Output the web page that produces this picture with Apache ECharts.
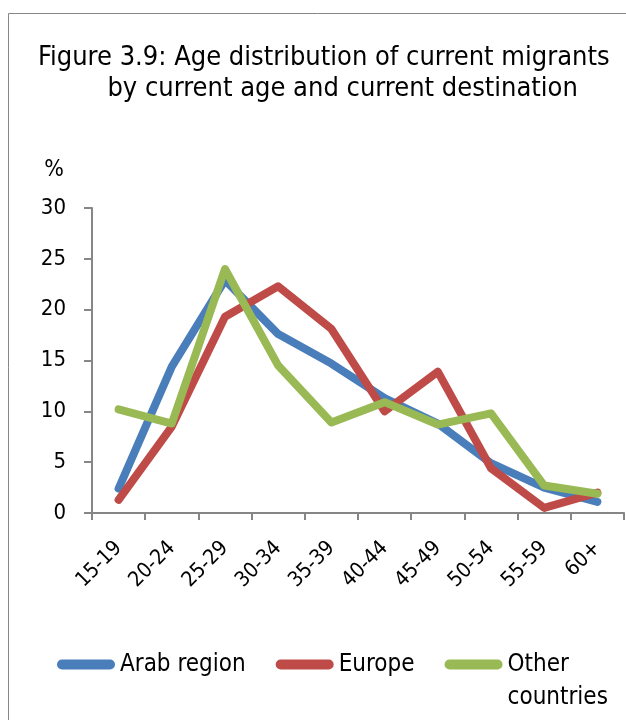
<!DOCTYPE html>
<html>
<head>
<meta charset="utf-8">
<script src="https://cdn.jsdelivr.net/npm/echarts@6/dist/echarts.min.js"></script>
<style>
  html, body { margin: 0; padding: 0; background: #fff; }
  #chart { width: 626px; height: 720px; }
</style>
</head>
<body>
<div id="chart"></div>
<script>
// age groups on the x axis
var ageGroups = ['15-19', '20-24', '25-29', '30-34', '35-39', '40-44', '45-49', '50-54', '55-59', '60+'];
// share of current migrants (%) by destination
var arabRegion = [2.4, 14.4, 22.9, 17.6, 14.7, 11.3, 8.8, 4.9, 2.5, 1.1];
var europe = [1.3, 8.5, 19.3, 22.3, 18.1, 10.0, 13.9, 4.4, 0.5, 2.0];
var otherCountries = [10.2, 8.8, 24.0, 14.5, 8.9, 10.9, 8.7, 9.8, 2.7, 1.9];

var font = '"Liberation Sans Narrow", "DejaVu Sans Condensed", sans-serif';
var axisGrey = '#868686';

var chart = echarts.init(document.getElementById('chart'));

function lineSeries(name, data, color) {
  return {
    name: name,
    type: 'line',
    data: data,
    symbol: 'none',
    color: color,
    lineStyle: { width: 8, color: color, cap: 'round', join: 'round' }
  };
}

chart.setOption({
  animation: false,
  textStyle: { fontFamily: font },
  graphic: [{
    type: 'rect',
    shape: { x: 8.5, y: 13.5, width: 700, height: 800 },
    style: { fill: 'none', stroke: axisGrey, lineWidth: 1 }
  }],
  title: {
    text: 'Figure 3.9: Age distribution of current migrants\n         by current age and current destination',
    left: 33,
    top: 37,
    textStyle: { fontFamily: font, fontSize: 27, fontWeight: 'normal', color: '#000', lineHeight: 31 }
  },
  legend: {
    left: 52,
    top: 610,
    itemWidth: 58,
    itemHeight: 10,
    itemGap: 30,
    icon: 'path://M5,0 L53,0 A5,5 0 0 1 53,10 L5,10 A5,5 0 0 1 5,0 Z',
    textStyle: { fontFamily: font, fontSize: 24, color: '#000', lineHeight: 33 },
    data: ['Arab region', 'Europe', 'Other countries'],
    formatter: function (name) {
      // keep "Other" level with the other entries, "countries" below it
      return name === 'Other countries' ? ' \nOther\ncountries' : name;
    }
  },
  grid: { left: 92, right: 2, top: 208, bottom: 207 },
  xAxis: {
    type: 'category',
    data: ageGroups,
    boundaryGap: true,
    axisLine: { lineStyle: { color: axisGrey, width: 2 } },
    axisTick: { show: true, length: 7, alignWithLabel: false, lineStyle: { color: axisGrey, width: 2 } },
    axisLabel: { rotate: 45, margin: 32, fontSize: 21, color: '#000', fontFamily: font, interval: 0 }
  },
  yAxis: {
    type: 'value',
    min: 0,
    max: 30,
    interval: 5,
    name: '%',
    nameLocation: 'end',
    nameGap: 26,
    nameTextStyle: { fontFamily: font, fontSize: 23, color: '#000', align: 'right', padding: [0, 28, 0, 0] },
    splitLine: { show: false },
    axisLine: { show: true, lineStyle: { color: axisGrey, width: 2 } },
    axisTick: { show: true, length: 8, lineStyle: { color: axisGrey, width: 2 } },
    axisLabel: { margin: 26, fontSize: 22, color: '#000', fontFamily: font }
  },
  series: [
    lineSeries('Arab region', arabRegion, '#4A7EBB'),
    lineSeries('Europe', europe, '#BE4B48'),
    lineSeries('Other countries', otherCountries, '#98B954')
  ]
});
</script>
</body>
</html>
